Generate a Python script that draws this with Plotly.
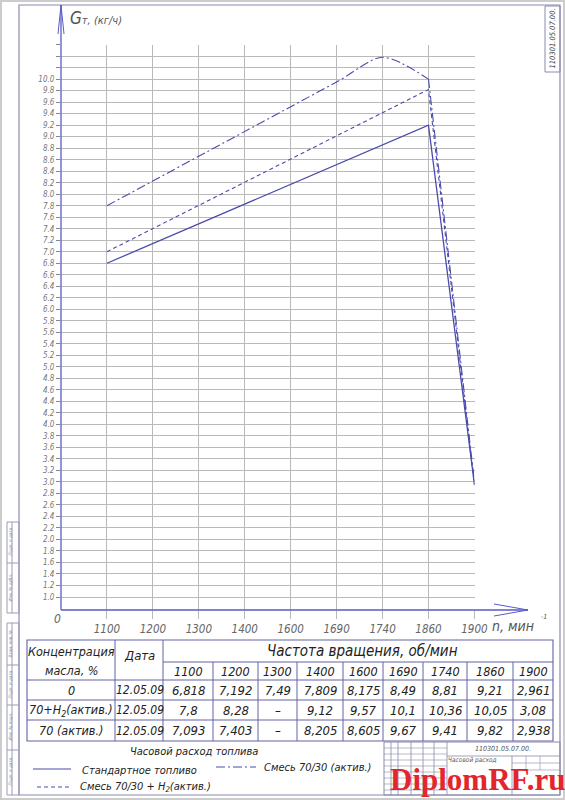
import plotly.graph_objects as go

W, H = 565, 800
FONT = "Liberation Sans Narrow, DejaVu Sans Condensed, Roboto Condensed, Liberation Sans, sans-serif"

# ---------------- data ----------------
rpm = ["1100", "1200", "1300", "1400", "1600", "1690", "1740", "1860", "1900"]

# curves as drawn on the chart
std_x = ["1100", "1860", "1900"]
std_y = [6.8, 9.2, 2.96]
mix_h2_x = ["1100", "1860", "1900"]
mix_h2_y = [7.0, 9.82, 2.94]
mix_akt_x = ["1100", "1690", "1740", "1860", "1900"]
mix_akt_y = [7.8, 9.95, 10.38, 10.0, 3.0]

# y grid / tick labels
y_ticks = [round(1.0 + 0.2 * i, 1) for i in range(49)]
y_labels = [f"{v:.1f}" if v <= 10.0 else "" for v in y_ticks]

# table
row_names = ["0", "70+H<sub>2</sub>(актив.)", "70 (актив.)"]
row_dates = ["12.05.09", "12.05.09", "12.05.09"]
tbl_std = [6.818, 7.192, 7.49, 7.809, 8.175, 8.49, 8.81, 9.21, 2.961]
tbl_h2 = [7.8, 8.28, None, 9.12, 9.57, 10.1, 10.36, 10.05, 3.08]
tbl_70 = [7.093, 7.403, None, 8.205, 8.605, 9.67, 9.41, 9.82, 2.938]
tbl_rows = [tbl_std, tbl_h2, tbl_70]

legend_names = ["Стандартное топливо", "Смесь 70/30 (актив.)", "Смесь 70/30 + H<sub>2</sub>(актив.)"]

# ---------------- helpers ----------------
LINE_C = "#4b4bae"
GRID_C = "#b9b9b9"
TBL_C = "#6262a6"
TXT_C = "#222222"


def px(x):
    return x / W


def py(y):
    return 1 - y / H


shapes = []
annots = []


def seg(x0, y0, x1, y1, color=TBL_C, width=1, dash=None):
    d = dict(color=color, width=width)
    if dash:
        d["dash"] = dash
    shapes.append(dict(type="line", xref="paper", yref="paper", x0=px(x0), y0=py(y0),
                       x1=px(x1), y1=py(y1), line=d, layer="above"))


def box(x0, y0, x1, y1, color=TBL_C, width=1):
    shapes.append(dict(type="rect", xref="paper", yref="paper", x0=px(x0), y0=py(y0),
                       x1=px(x1), y1=py(y1), line=dict(color=color, width=width), layer="above"))


def txt(x, y, s, size=13, color=TXT_C, xanchor="center", yanchor="middle", angle=0,
        family=FONT, italic=True, weight="normal"):
    annots.append(dict(x=px(x), y=py(y), xref="paper", yref="paper",
                       text=(f"<i>{s}</i>" if italic else s), showarrow=False,
                       xanchor=xanchor, yanchor=yanchor, textangle=angle,
                       font=dict(size=size, color=color, family=family, weight=weight)))


# ---------------- figure ----------------
DASHDOT = "9px,3px,2px,3px"
fig = go.Figure()
fig.add_trace(go.Scatter(x=std_x, y=std_y, mode="lines", name=legend_names[0],
                         line=dict(color=LINE_C, width=1.3)))
fig.add_trace(go.Scatter(x=mix_h2_x, y=mix_h2_y, mode="lines", name=legend_names[2],
                         line=dict(color=LINE_C, width=1.1, dash="4px,3px")))
# rounded top part of the dash-dot curve, then its straight drop
fig.add_trace(go.Scatter(x=mix_akt_x[:4], y=mix_akt_y[:4], mode="lines", name=legend_names[1],
                         line=dict(color=LINE_C, width=1.1, dash=DASHDOT,
                                   shape="spline", smoothing=0.8)))
fig.add_trace(go.Scatter(x=mix_akt_x[3:], y=mix_akt_y[3:], mode="lines", name=legend_names[1],
                         line=dict(color=LINE_C, width=1.1, dash=DASHDOT)))

# plot area: x 61..474 px, y 44.5..610 px
fig.update_layout(
    template="none",
    width=W, height=H, autosize=False,
    margin=dict(l=0, r=0, t=0, b=0, pad=0),
    paper_bgcolor="white", plot_bgcolor="white",
    showlegend=False,
    xaxis=dict(type="category", categoryorder="array", categoryarray=rpm,
               domain=[px(61), px(474.5)], range=[-1, 8.002], automargin=False,
               showgrid=True, gridcolor=GRID_C, gridwidth=1,
               ticks="outside", ticklen=8, tickcolor=GRID_C, tickwidth=1,
               tickvals=rpm, ticktext=[f"<i>{r}</i>" for r in rpm],
               tickfont=dict(size=11.5, color="#666666", family=FONT),
               showline=False, zeroline=False, fixedrange=True),
    yaxis=dict(domain=[py(610), py(44.5)], range=[0.774, 10.602], automargin=False,
               tickvals=y_ticks, ticktext=[f"<i>{t}</i>" if t else "" for t in y_labels],
               showgrid=True, gridcolor=GRID_C, gridwidth=1,
               ticks="outside", ticklen=4, tickcolor="#888888", tickwidth=1,
               tickfont=dict(size=8, color="#777777", family=FONT),
               showline=False, zeroline=False, fixedrange=True),
)

# page border and drawing frame
box(1, 1, 564, 799, color="#cccccc", width=2)
box(19, 5, 560, 795, color="#8a8ab0", width=1.2)

# top-right code box
box(545, 6, 560, 72, color="#8a8ab0", width=1)
txt(552.5, 39, "110301.05.07.00.", size=7.5, color="#444444", angle=-90)

# left strip
box(7, 522, 19, 613, color="#9a9ab8")
seg(7, 563, 19, 563, color="#9a9ab8")
seg(12, 522, 12, 613, color="#9a9ab8")
box(7, 623, 19, 795, color="#9a9ab8")
for yy in (665, 705, 750):
    seg(7, yy, 19, yy, color="#9a9ab8")
seg(12, 623, 12, 795, color="#9a9ab8")
for (yc, lab) in ((542, "Подп. и дата"), (588, "Инв. № дубл."), (644, "Взам. инв. №"),
                  (685, "Подп. и дата"), (727, "Инв. № подл."), (772, "Подп. и дата")):
    txt(9.5, yc, lab, size=4.5, color="#888888", angle=-90)

# axes with arrows
seg(61, 610, 61, 5, color="#5a5ac8", width=1.3)
seg(58, 34, 61, 5, color="#5a5ac8", width=1)
seg(64, 34, 61, 5, color="#5a5ac8", width=1)
seg(61, 610, 528, 610, color="#5a5ac8", width=1.3)
seg(494, 604, 528, 610, color="#5a5ac8", width=1)
seg(494, 616, 528, 610, color="#5a5ac8", width=1)

txt(68, 18, "<span style='font-size:17px'>G</span>т, (кг/ч)", size=11, color="#555555",
    xanchor="left")
txt(57, 619, "0", size=12, color="#666666")
txt(490, 626, "n, мин", size=14, color="#555555", xanchor="left")
txt(539, 617, "-1", size=7, color="#555555", xanchor="left")

# ---------------- table ----------------
xs = [27, 115, 163, 213, 258, 297, 343, 383, 423, 467, 513, 553]
ys = [640, 662, 680, 700, 720, 741]
box(xs[0], ys[0], xs[-1], ys[-1], color=TBL_C, width=1.1)
for x in xs[1:-1]:
    y_top = ys[0] if x <= xs[2] else ys[1]
    seg(x, y_top, x, ys[-1])
seg(xs[2], ys[1], xs[-1], ys[1])
for y in ys[2:-1]:
    seg(xs[0], y, xs[-1], y)

txt(71, 651, "Концентрация", size=12.5)
txt(71, 670, "масла, %", size=12.5)
txt(139, 655, "Дата", size=13)
txt((xs[2] + xs[-1]) / 2 + 4, 651, "Частота вращения, об/мин", size=15)
for i, r in enumerate(rpm):
    txt((xs[i + 2] + xs[i + 3]) / 2, 671, r, size=12.5)


def fmt(v):
    return "–" if v is None else str(v).replace(".", ",")


for j, vals in enumerate(tbl_rows):
    yc = (ys[j + 2] + ys[j + 3]) / 2
    txt((xs[0] + xs[1]) / 2, yc, row_names[j], size=12.5)
    txt((xs[1] + xs[2]) / 2 + 1, yc, row_dates[j], size=12)
    for i, v in enumerate(vals):
        txt((xs[i + 2] + xs[i + 3]) / 2, yc, fmt(v), size=13)

# ---------------- legend ----------------
txt(194, 751, "Часовой расход топлива", size=11)
seg(33, 769, 71, 769, color=LINE_C, width=1.2)
txt(80, 770, legend_names[0], size=11, xanchor="left")
seg(216, 767, 256, 767, color=LINE_C, width=1.1, dash=DASHDOT)
txt(262, 767, legend_names[1], size=11, xanchor="left")
seg(37, 787, 71, 787, color=LINE_C, width=1.1, dash="4px,3px")
txt(78, 787, legend_names[2], size=11, xanchor="left")

# ---------------- title block (stamp) ----------------
SC = "#8a8aa8"
box(384, 742, 560, 795, color=SC)
for x in (391, 398, 411, 423, 434, 447):
    seg(x, 742, x, 795, color=SC, width=0.8)
for y in (748, 754, 760, 766, 772, 778, 784, 790):
    seg(384, y, 447, y, color=SC, width=0.6)
seg(447, 756, 560, 756, color=SC, width=0.8)
seg(512, 756, 512, 795, color=SC, width=0.8)
for y in (763, 770):
    seg(512, y, 560, y, color=SC, width=0.6)
for x in (526, 540):
    seg(x, 756, x, 770, color=SC, width=0.6)
txt(503, 749, "110301.05.07.00.", size=7, color="#555555")
txt(472, 760, "Часовой расход", size=6.5, color="#555555")

# watermark
txt(477, 779, "DiplomRF.ru", size=31, color="#e3262b",
    family="Liberation Serif, DejaVu Serif, serif", italic=False, weight="bold")

fig.update_layout(shapes=shapes, annotations=annots)

fig.write_html(
    "out.html",
    config={"displayModeBar": False, "responsive": False},
    post_script="document.body.style.margin='0';document.body.style.overflow='hidden';"
                "document.documentElement.style.overflow='hidden';",
)
